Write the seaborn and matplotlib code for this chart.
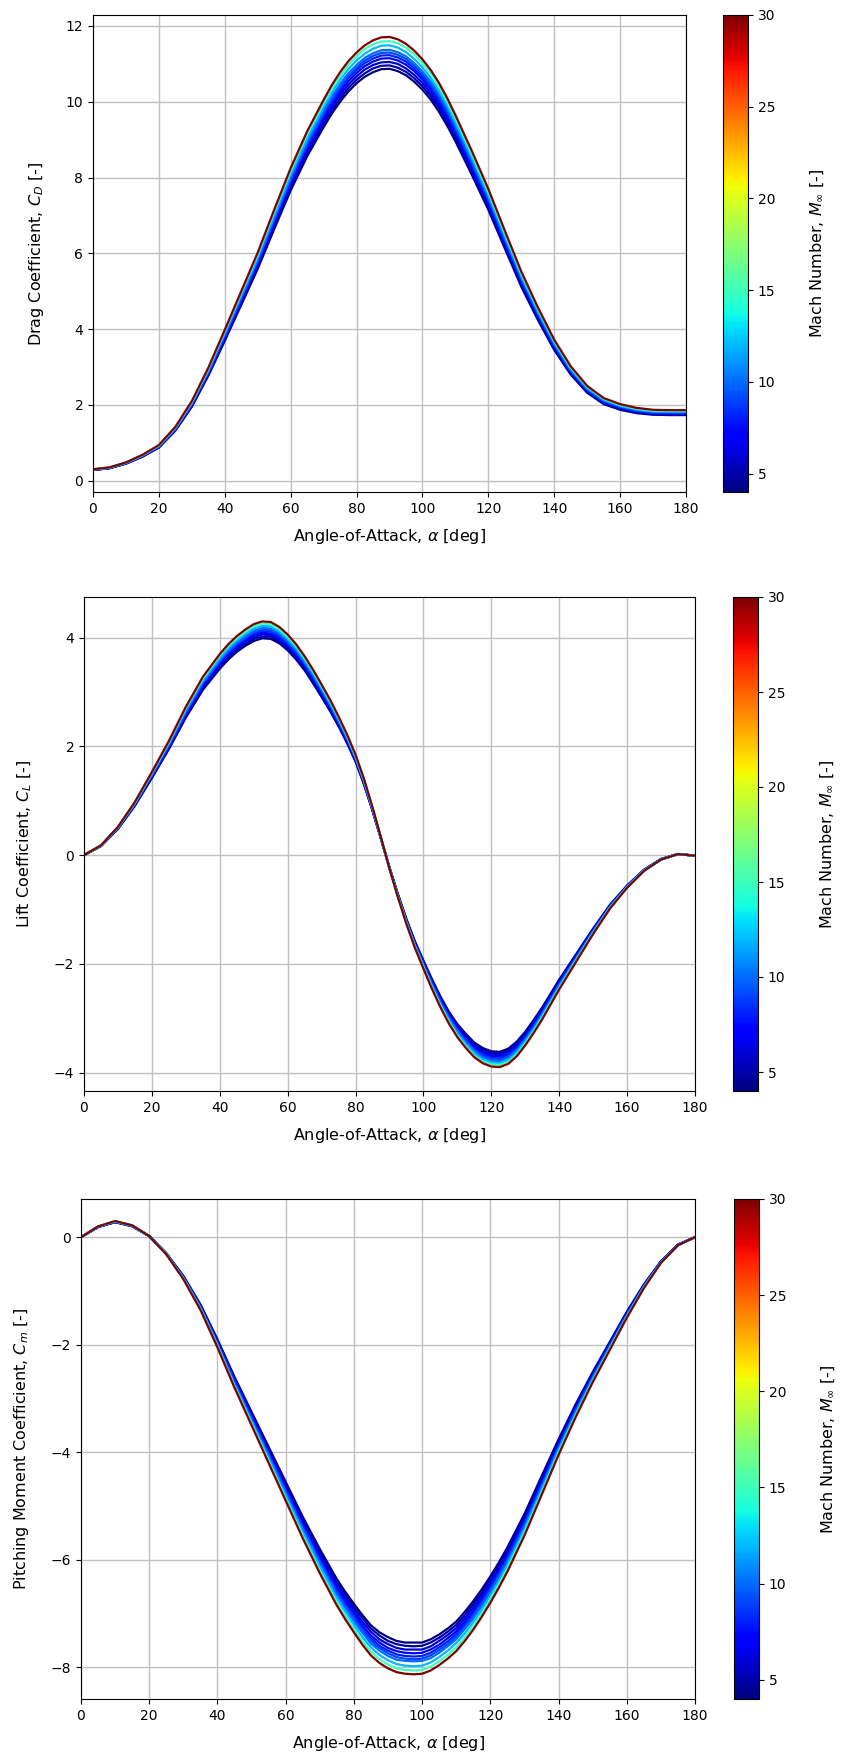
import matplotlib
matplotlib.use("Agg")
import matplotlib.pyplot as plt
import seaborn as sns
import pandas as pd

# Mach numbers of the curves and angle-of-attack samples (values read off the reference,
# sampled more densely where the curves bend)
mach = [4, 5, 6, 7, 8, 9, 10, 12, 15, 30]

alpha_cd = [0, 5, 10, 15, 20, 25, 30, 35, 40, 45, 50, 55, 60, 65, 70,
            72.5, 75, 77.5, 80, 82.5, 85, 87.5, 90, 92.5, 95, 97.5, 100, 102.5, 105, 107.5, 110,
            115, 120, 125, 130, 135, 140, 145, 150, 155, 160, 165, 170, 175, 180]
alpha_cl = [0, 5, 10, 15, 20, 25, 30, 35, 40,
            42.5, 45, 47.5, 50, 52.5, 55, 57.5, 60, 62.5, 65, 67.5, 70, 72.5, 75, 77.5, 80,
            82.5, 85, 87.5, 90, 92.5, 95, 97.5, 100, 102.5, 105, 107.5, 110, 112.5, 115, 117.5,
            120, 122.5, 125, 127.5, 130, 132.5, 135,
            140, 145, 150, 155, 160, 165, 170, 175, 180]
alpha_cm = [0, 5, 10, 15, 20, 25, 30, 35, 40, 45, 50, 55, 60, 65, 70,
            75, 77.5, 80, 82.5, 85, 87.5, 90, 92.5, 95, 97.5, 100, 102.5, 105, 107.5, 110,
            112.5, 115, 117.5, 120, 122.5, 125,
            130, 135, 140, 145, 150, 155, 160, 165, 170, 175, 180]

# Drag coefficient C_D
cd_m04 = [0.28, 0.33, 0.45, 0.63, 0.87, 1.32, 1.95, 2.77, 3.69, 4.64, 5.59, 6.64, 7.66, 8.56, 9.33,
          9.69, 10.00, 10.27, 10.49, 10.66, 10.78, 10.86, 10.87, 10.81, 10.70, 10.53, 10.32, 10.06, 9.74, 9.37, 8.96,
          8.07, 7.15, 6.13, 5.12, 4.25, 3.45, 2.80, 2.32, 2.02, 1.87, 1.78, 1.74, 1.73, 1.73]
cd_m05 = [0.28, 0.33, 0.45, 0.64, 0.88, 1.33, 1.97, 2.79, 3.73, 4.68, 5.63, 6.69, 7.72, 8.63, 9.41,
          9.77, 10.09, 10.36, 10.58, 10.75, 10.88, 10.95, 10.96, 10.90, 10.79, 10.62, 10.41, 10.15, 9.83, 9.45, 9.03,
          8.14, 7.21, 6.18, 5.17, 4.29, 3.48, 2.83, 2.34, 2.04, 1.89, 1.80, 1.75, 1.74, 1.74]
cd_m06 = [0.28, 0.33, 0.45, 0.64, 0.89, 1.34, 1.98, 2.81, 3.76, 4.72, 5.68, 6.75, 7.79, 8.70, 9.49,
          9.86, 10.18, 10.45, 10.67, 10.85, 10.97, 11.04, 11.05, 11.00, 10.88, 10.71, 10.50, 10.23, 9.91, 9.53, 9.11,
          8.21, 7.27, 6.23, 5.21, 4.32, 3.51, 2.85, 2.36, 2.06, 1.91, 1.81, 1.77, 1.76, 1.76]
cd_m07 = [0.29, 0.33, 0.46, 0.65, 0.90, 1.35, 2.00, 2.84, 3.79, 4.76, 5.73, 6.81, 7.85, 8.78, 9.57,
          9.94, 10.26, 10.54, 10.76, 10.94, 11.06, 11.14, 11.15, 11.09, 10.98, 10.81, 10.59, 10.32, 10.00, 9.62, 9.19,
          8.28, 7.33, 6.28, 5.26, 4.36, 3.54, 2.88, 2.38, 2.08, 1.92, 1.83, 1.78, 1.77, 1.77]
cd_m08 = [0.29, 0.34, 0.46, 0.65, 0.90, 1.36, 2.01, 2.86, 3.82, 4.80, 5.77, 6.86, 7.91, 8.84, 9.64,
          10.01, 10.34, 10.62, 10.84, 11.02, 11.14, 11.22, 11.23, 11.17, 11.06, 10.88, 10.66, 10.40, 10.07, 9.69, 9.26,
          8.35, 7.39, 6.33, 5.30, 4.39, 3.57, 2.90, 2.40, 2.09, 1.94, 1.84, 1.79, 1.78, 1.78]
cd_m09 = [0.29, 0.34, 0.46, 0.66, 0.91, 1.37, 2.03, 2.88, 3.84, 4.82, 5.81, 6.90, 7.96, 8.90, 9.70,
          10.07, 10.40, 10.68, 10.90, 11.09, 11.21, 11.29, 11.30, 11.24, 11.13, 10.95, 10.73, 10.46, 10.13, 9.75, 9.31,
          8.39, 7.43, 6.37, 5.33, 4.42, 3.59, 2.91, 2.41, 2.10, 1.95, 1.85, 1.80, 1.80, 1.80]
cd_m10 = [0.29, 0.34, 0.47, 0.66, 0.91, 1.38, 2.04, 2.89, 3.87, 4.86, 5.85, 6.94, 8.01, 8.95, 9.76,
          10.14, 10.47, 10.75, 10.97, 11.16, 11.28, 11.36, 11.37, 11.31, 11.20, 11.02, 10.80, 10.53, 10.20, 9.81, 9.37,
          8.45, 7.48, 6.41, 5.36, 4.45, 3.61, 2.93, 2.43, 2.12, 1.96, 1.87, 1.82, 1.81, 1.81]
cd_m12 = [0.29, 0.34, 0.47, 0.67, 0.92, 1.39, 2.06, 2.92, 3.90, 4.90, 5.90, 7.01, 8.09, 9.04, 9.86,
          10.24, 10.58, 10.86, 11.09, 11.27, 11.40, 11.48, 11.49, 11.43, 11.31, 11.13, 10.91, 10.63, 10.30, 9.91, 9.46,
          8.53, 7.55, 6.47, 5.41, 4.49, 3.65, 2.96, 2.45, 2.14, 1.98, 1.88, 1.83, 1.82, 1.82]
cd_m15 = [0.30, 0.35, 0.48, 0.67, 0.93, 1.41, 2.08, 2.95, 3.95, 4.96, 5.97, 7.09, 8.18, 9.14, 9.96,
          10.35, 10.68, 10.97, 11.20, 11.39, 11.52, 11.59, 11.60, 11.55, 11.43, 11.25, 11.02, 10.74, 10.41, 10.01, 9.57,
          8.62, 7.63, 6.54, 5.47, 4.54, 3.69, 2.99, 2.48, 2.16, 2.00, 1.90, 1.85, 1.84, 1.84]
cd_m30 = [0.30, 0.35, 0.48, 0.68, 0.94, 1.42, 2.10, 2.98, 3.98, 5.00, 6.02, 7.15, 8.25, 9.22, 10.05,
          10.44, 10.78, 11.07, 11.30, 11.49, 11.62, 11.70, 11.71, 11.65, 11.53, 11.35, 11.12, 10.84, 10.50, 10.10, 9.65,
          8.70, 7.70, 6.60, 5.52, 4.58, 3.72, 3.02, 2.50, 2.18, 2.02, 1.92, 1.87, 1.86, 1.86]

# Lift coefficient C_L
cl_m04 = [0.00, 0.17, 0.48, 0.91, 1.42, 1.95, 2.53, 3.04, 3.43,
          3.60, 3.74, 3.85, 3.94, 3.99, 3.98, 3.90, 3.77, 3.60, 3.40, 3.16, 2.91, 2.65, 2.37, 2.06, 1.72,
          1.30, 0.82, 0.30, -0.23, -0.72, -1.18, -1.59, -1.94, -2.28, -2.60, -2.88, -3.11, -3.29, -3.45, -3.55,
          -3.61, -3.62, -3.56, -3.43, -3.25, -3.03, -2.80,
          -2.29, -1.82, -1.35, -0.91, -0.56, -0.27, -0.07, 0.02, -0.01]
cl_m05 = [0.00, 0.17, 0.49, 0.92, 1.43, 1.97, 2.56, 3.07, 3.46,
          3.63, 3.77, 3.88, 3.98, 4.02, 4.02, 3.93, 3.80, 3.63, 3.43, 3.19, 2.94, 2.68, 2.39, 2.08, 1.73,
          1.31, 0.82, 0.30, -0.23, -0.73, -1.19, -1.60, -1.96, -2.30, -2.62, -2.90, -3.14, -3.32, -3.48, -3.58,
          -3.64, -3.65, -3.59, -3.46, -3.28, -3.06, -2.83,
          -2.31, -1.83, -1.36, -0.92, -0.56, -0.27, -0.07, 0.02, -0.01]
cl_m06 = [0.00, 0.17, 0.49, 0.93, 1.44, 1.98, 2.58, 3.10, 3.49,
          3.66, 3.80, 3.92, 4.01, 4.06, 4.05, 3.96, 3.83, 3.66, 3.46, 3.22, 2.96, 2.70, 2.41, 2.10, 1.75,
          1.32, 0.83, 0.30, -0.24, -0.74, -1.20, -1.61, -1.97, -2.32, -2.64, -2.93, -3.16, -3.35, -3.51, -3.62,
          -3.67, -3.68, -3.62, -3.49, -3.30, -3.09, -2.85,
          -2.33, -1.85, -1.37, -0.93, -0.57, -0.27, -0.08, 0.02, -0.01]
cl_m07 = [0.00, 0.17, 0.50, 0.93, 1.46, 2.00, 2.60, 3.12, 3.52,
          3.69, 3.84, 3.95, 4.05, 4.09, 4.08, 4.00, 3.87, 3.69, 3.48, 3.25, 2.99, 2.72, 2.43, 2.11, 1.76,
          1.33, 0.84, 0.30, -0.24, -0.74, -1.21, -1.63, -1.99, -2.34, -2.67, -2.95, -3.19, -3.38, -3.54, -3.65,
          -3.70, -3.71, -3.66, -3.52, -3.33, -3.11, -2.88,
          -2.35, -1.87, -1.38, -0.93, -0.57, -0.28, -0.08, 0.02, -0.01]
cl_m08 = [0.00, 0.17, 0.50, 0.94, 1.47, 2.01, 2.62, 3.15, 3.55,
          3.72, 3.87, 3.98, 4.08, 4.12, 4.12, 4.03, 3.89, 3.72, 3.51, 3.27, 3.01, 2.74, 2.45, 2.13, 1.77,
          1.34, 0.84, 0.31, -0.24, -0.75, -1.22, -1.64, -2.00, -2.36, -2.69, -2.97, -3.21, -3.40, -3.57, -3.67,
          -3.73, -3.74, -3.68, -3.55, -3.36, -3.14, -2.90,
          -2.37, -1.88, -1.39, -0.94, -0.58, -0.28, -0.08, 0.02, -0.01]
cl_m09 = [0.00, 0.17, 0.50, 0.95, 1.48, 2.03, 2.63, 3.17, 3.57,
          3.74, 3.89, 4.00, 4.10, 4.15, 4.14, 4.05, 3.92, 3.74, 3.53, 3.29, 3.03, 2.76, 2.46, 2.14, 1.79,
          1.35, 0.85, 0.31, -0.24, -0.75, -1.23, -1.65, -2.02, -2.37, -2.70, -2.99, -3.23, -3.43, -3.59, -3.70,
          -3.75, -3.76, -3.71, -3.57, -3.38, -3.16, -2.91,
          -2.38, -1.89, -1.40, -0.95, -0.58, -0.28, -0.08, 0.02, -0.01]
cl_m10 = [0.00, 0.18, 0.51, 0.95, 1.49, 2.04, 2.65, 3.19, 3.59,
          3.77, 3.91, 4.03, 4.13, 4.18, 4.17, 4.08, 3.94, 3.77, 3.55, 3.31, 3.05, 2.78, 2.48, 2.16, 1.80,
          1.36, 0.85, 0.31, -0.24, -0.76, -1.23, -1.66, -2.03, -2.39, -2.72, -3.01, -3.25, -3.45, -3.61, -3.72,
          -3.78, -3.79, -3.73, -3.59, -3.40, -3.18, -2.93,
          -2.40, -1.90, -1.41, -0.95, -0.58, -0.28, -0.08, 0.02, -0.01]
cl_m12 = [0.00, 0.18, 0.51, 0.96, 1.50, 2.06, 2.68, 3.22, 3.63,
          3.81, 3.95, 4.07, 4.17, 4.22, 4.21, 4.12, 3.98, 3.81, 3.59, 3.35, 3.08, 2.81, 2.50, 2.18, 1.81,
          1.37, 0.86, 0.31, -0.25, -0.77, -1.25, -1.68, -2.05, -2.41, -2.75, -3.04, -3.29, -3.48, -3.65, -3.76,
          -3.82, -3.83, -3.77, -3.63, -3.43, -3.21, -2.96,
          -2.42, -1.92, -1.42, -0.96, -0.59, -0.28, -0.08, 0.02, -0.01]
cl_m15 = [0.00, 0.18, 0.52, 0.97, 1.52, 2.08, 2.71, 3.25, 3.67,
          3.85, 3.99, 4.11, 4.21, 4.26, 4.25, 4.16, 4.02, 3.85, 3.63, 3.38, 3.11, 2.83, 2.53, 2.20, 1.83,
          1.39, 0.87, 0.32, -0.25, -0.77, -1.26, -1.69, -2.07, -2.44, -2.77, -3.07, -3.32, -3.52, -3.69, -3.80,
          -3.85, -3.86, -3.81, -3.67, -3.47, -3.24, -2.99,
          -2.45, -1.94, -1.44, -0.97, -0.59, -0.29, -0.08, 0.02, -0.01]
cl_m30 = [0.00, 0.18, 0.52, 0.98, 1.53, 2.10, 2.73, 3.28, 3.70,
          3.88, 4.03, 4.15, 4.25, 4.30, 4.29, 4.20, 4.06, 3.88, 3.66, 3.41, 3.14, 2.86, 2.55, 2.22, 1.85,
          1.40, 0.88, 0.32, -0.25, -0.78, -1.27, -1.71, -2.09, -2.46, -2.80, -3.10, -3.35, -3.55, -3.72, -3.83,
          -3.89, -3.90, -3.84, -3.70, -3.50, -3.27, -3.02,
          -2.47, -1.96, -1.45, -0.98, -0.60, -0.29, -0.08, 0.02, -0.01]

# Pitching moment coefficient C_m
cm_m04 = [0.00, 0.19, 0.28, 0.20, 0.02, -0.30, -0.72, -1.25, -1.90, -2.60, -3.25, -3.90, -4.55, -5.20, -5.80,
          -6.36, -6.60, -6.82, -7.03, -7.22, -7.35, -7.44, -7.51, -7.54, -7.54, -7.54, -7.48, -7.39, -7.28, -7.15,
          -6.97, -6.77, -6.55, -6.31, -6.05, -5.77,
          -5.15, -4.45, -3.76, -3.11, -2.51, -1.95, -1.39, -0.88, -0.45, -0.14, 0.00]
cm_m05 = [0.00, 0.19, 0.28, 0.21, 0.02, -0.30, -0.73, -1.26, -1.92, -2.62, -3.28, -3.93, -4.59, -5.24, -5.85,
          -6.41, -6.65, -6.88, -7.09, -7.28, -7.41, -7.51, -7.57, -7.60, -7.61, -7.60, -7.54, -7.45, -7.34, -7.21,
          -7.03, -6.83, -6.61, -6.36, -6.10, -5.82,
          -5.20, -4.49, -3.79, -3.14, -2.53, -1.97, -1.40, -0.89, -0.45, -0.14, 0.00]
cm_m06 = [0.00, 0.19, 0.28, 0.21, 0.02, -0.30, -0.74, -1.27, -1.94, -2.64, -3.30, -3.97, -4.63, -5.29, -5.90,
          -6.47, -6.71, -6.94, -7.16, -7.34, -7.48, -7.57, -7.64, -7.67, -7.67, -7.67, -7.61, -7.51, -7.40, -7.27,
          -7.09, -6.89, -6.66, -6.42, -6.15, -5.87,
          -5.24, -4.53, -3.82, -3.16, -2.55, -1.98, -1.42, -0.90, -0.45, -0.14, 0.00]
cm_m07 = [0.00, 0.19, 0.29, 0.21, 0.02, -0.31, -0.74, -1.29, -1.95, -2.67, -3.33, -4.00, -4.67, -5.33, -5.95,
          -6.52, -6.77, -7.00, -7.22, -7.41, -7.54, -7.64, -7.70, -7.73, -7.74, -7.73, -7.67, -7.58, -7.46, -7.33,
          -7.15, -6.95, -6.72, -6.47, -6.21, -5.92,
          -5.28, -4.57, -3.86, -3.19, -2.57, -2.00, -1.43, -0.90, -0.46, -0.14, 0.00]
cm_m08 = [0.00, 0.19, 0.29, 0.21, 0.02, -0.31, -0.75, -1.30, -1.97, -2.69, -3.36, -4.03, -4.70, -5.37, -6.00,
          -6.57, -6.82, -7.05, -7.27, -7.46, -7.60, -7.69, -7.76, -7.79, -7.80, -7.79, -7.73, -7.63, -7.52, -7.38,
          -7.20, -7.00, -6.77, -6.52, -6.25, -5.96,
          -5.32, -4.60, -3.89, -3.21, -2.59, -2.01, -1.44, -0.91, -0.46, -0.14, 0.00]
cm_m09 = [0.00, 0.19, 0.29, 0.21, 0.02, -0.31, -0.75, -1.30, -1.98, -2.70, -3.38, -4.05, -4.73, -5.40, -6.03,
          -6.61, -6.86, -7.09, -7.31, -7.51, -7.64, -7.74, -7.81, -7.84, -7.85, -7.84, -7.78, -7.68, -7.57, -7.43,
          -7.25, -7.04, -6.81, -6.56, -6.29, -6.00,
          -5.35, -4.63, -3.91, -3.23, -2.61, -2.03, -1.45, -0.92, -0.46, -0.15, 0.00]
cm_m10 = [0.00, 0.19, 0.29, 0.21, 0.02, -0.31, -0.76, -1.31, -1.99, -2.72, -3.40, -4.08, -4.76, -5.44, -6.07,
          -6.65, -6.90, -7.14, -7.36, -7.56, -7.69, -7.79, -7.86, -7.88, -7.89, -7.88, -7.83, -7.73, -7.61, -7.48,
          -7.29, -7.09, -6.86, -6.60, -6.33, -6.04,
          -5.39, -4.66, -3.93, -3.25, -2.62, -2.04, -1.46, -0.92, -0.47, -0.15, 0.00]
cm_m12 = [0.00, 0.20, 0.29, 0.22, 0.02, -0.31, -0.77, -1.32, -2.01, -2.75, -3.43, -4.12, -4.81, -5.49, -6.13,
          -6.72, -6.97, -7.21, -7.44, -7.63, -7.77, -7.87, -7.94, -7.97, -7.98, -7.97, -7.91, -7.81, -7.69, -7.55,
          -7.37, -7.16, -6.93, -6.67, -6.40, -6.10,
          -5.44, -4.71, -3.97, -3.29, -2.65, -2.06, -1.47, -0.93, -0.47, -0.15, 0.00]
cm_m15 = [0.00, 0.20, 0.30, 0.22, 0.02, -0.32, -0.77, -1.34, -2.03, -2.78, -3.47, -4.16, -4.86, -5.55, -6.20,
          -6.79, -7.05, -7.29, -7.51, -7.71, -7.85, -7.95, -8.02, -8.05, -8.06, -8.05, -7.99, -7.89, -7.77, -7.63,
          -7.44, -7.23, -7.00, -6.74, -6.46, -6.16,
          -5.50, -4.76, -4.01, -3.32, -2.68, -2.08, -1.49, -0.94, -0.48, -0.15, 0.00]
cm_m30 = [0.00, 0.20, 0.30, 0.22, 0.02, -0.32, -0.78, -1.35, -2.05, -2.80, -3.50, -4.20, -4.90, -5.60, -6.25,
          -6.85, -7.11, -7.35, -7.58, -7.78, -7.92, -8.02, -8.09, -8.12, -8.13, -8.12, -8.06, -7.96, -7.84, -7.70,
          -7.51, -7.30, -7.06, -6.80, -6.52, -6.22,
          -5.55, -4.80, -4.05, -3.35, -2.70, -2.10, -1.50, -0.95, -0.48, -0.15, 0.00]

cd_curves = [cd_m04, cd_m05, cd_m06, cd_m07, cd_m08, cd_m09, cd_m10, cd_m12, cd_m15, cd_m30]
cl_curves = [cl_m04, cl_m05, cl_m06, cl_m07, cl_m08, cl_m09, cl_m10, cl_m12, cl_m15, cl_m30]
cm_curves = [cm_m04, cm_m05, cm_m06, cm_m07, cm_m08, cm_m09, cm_m10, cm_m12, cm_m15, cm_m30]


def to_long(alpha, curves):
    frames = []
    for m, vals in zip(mach, curves):
        assert len(vals) == len(alpha), (m, len(vals), len(alpha))
        frames.append(pd.DataFrame({"alpha": alpha, "value": vals, "mach": m}))
    return pd.concat(frames, ignore_index=True)


W, H = 845, 1762


def box(left, top, right, bottom):
    # pixel box -> figure fraction
    return [left / W, 1 - bottom / H, (right - left) / W, (bottom - top) / H]


panels = [
    (to_long(alpha_cd, cd_curves), r"Drag Coefficient, $C_D$ [-]", (-0.30, 12.29),
     box(93, 15, 686, 492), box(723, 15, 748, 492)),
    (to_long(alpha_cl, cl_curves), r"Lift Coefficient, $C_L$ [-]", (-4.34, 4.75),
     box(84, 597, 695, 1091), box(733, 597, 758, 1091)),
    (to_long(alpha_cm, cm_curves), r"Pitching Moment Coefficient, $C_m$ [-]", (-8.59, 0.71),
     box(81, 1199, 695, 1699), box(734, 1199, 759, 1699)),
]

jet = matplotlib.colormaps["jet"]
norm = plt.Normalize(4, 30)
fig = plt.figure(figsize=(W / 100, H / 100), dpi=100)

for df, ylab, ylim, ax_box, cb_box in panels:
    ax = fig.add_axes(ax_box)
    sns.lineplot(data=df, x="alpha", y="value", hue="mach", palette=jet,
                 hue_norm=norm, legend=False, estimator=None, sort=False,
                 linewidth=1.6, ax=ax)
    ax.set_xlim(0, 180)
    ax.set_ylim(*ylim)
    ax.grid(True, color="#c0c0c0", linewidth=1.0)
    ax.set_axisbelow(True)
    ax.set_xlabel(r"Angle-of-Attack, $\alpha$ [deg]", fontsize=11.5, labelpad=8)
    ax.set_ylabel(ylab, fontsize=11.5, labelpad=14)

    cax = fig.add_axes(cb_box)
    sm = plt.cm.ScalarMappable(cmap=jet, norm=norm)
    cb = fig.colorbar(sm, cax=cax)
    cb.set_label(r"Mach Number, $M_\infty$ [-]", fontsize=11.5, labelpad=24)

fig.savefig("out.png", dpi=100)
